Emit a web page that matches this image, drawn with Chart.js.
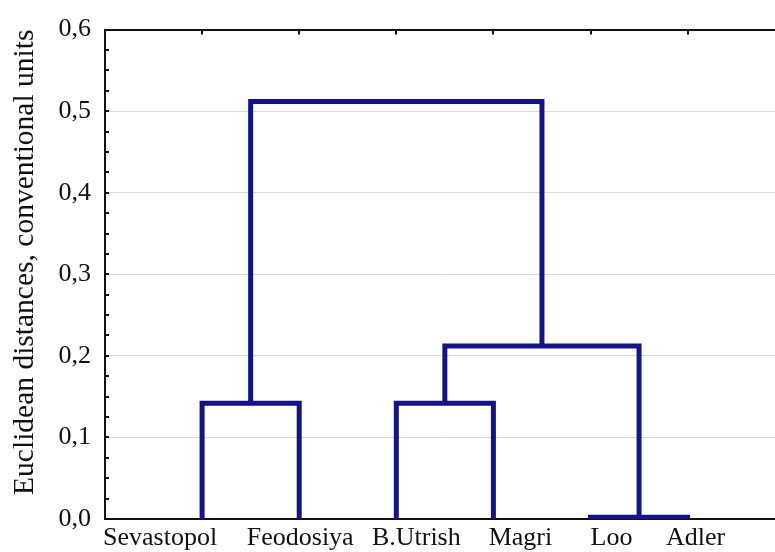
<!DOCTYPE html>
<html>
<head>
<meta charset="utf-8">
<script src="https://cdn.jsdelivr.net/npm/chart.js@4/dist/chart.umd.min.js"></script>
<style>
  html, body { margin: 0; padding: 0; background: #fff; }
  #wrap { width: 775px; height: 552px; position: relative; }
</style>
</head>
<body>
<div id="wrap"><canvas id="dendro"></canvas></div>
<script>
// leaves in dendrogram order
var leafNames = ['Sevastopol', 'Feodosiya', 'B.Utrish', 'Magri', 'Loo', 'Adler'];
// merges: node ids 0..5 are leaves, merge k creates node 6+k
var mergeLeft = [0, 2, 4, 7, 6];
var mergeRight = [1, 3, 5, 8, 9];
var mergeHeight = [0.142, 0.142, 0.002, 0.212, 0.512];
var yTicks = [0, 0.1, 0.2, 0.3, 0.4, 0.5, 0.6];

var lineColor = '#14148a';
// the original squeezes its leaf labels a little off their leaves (px)
var labelNudge = [-42, 1, 20, 27, 21, 8];

// node positions: leaf i sits at x = i + 1, clusters at the middle of their children
var nodeX = leafNames.map(function (n, i) { return i + 1; });
var nodeY = leafNames.map(function () { return 0; });
var linkSets = [];
for (let k = 0; k < mergeHeight.length; k++) {
    var a = mergeLeft[k], b = mergeRight[k], h = mergeHeight[k];
    linkSets.push({
        data: [
            {x: nodeX[a], y: nodeY[a]},
            {x: nodeX[a], y: h},
            {x: nodeX[b], y: h},
            {x: nodeX[b], y: nodeY[b]}
        ],
        borderColor: lineColor,
        borderWidth: 5,
        borderJoinStyle: 'miter',
        borderCapStyle: 'butt',
        pointRadius: 0,
        tension: 0,
        fill: false
    });
    nodeX.push((nodeX[a] + nodeX[b]) / 2);
    nodeY.push(h);
}

// small inward ticks on the frame, like the original statistics package draws
var innerTicks = {
    id: 'innerTicks',
    beforeDatasetsDraw: function (chart) {
        var ctx = chart.ctx, ca = chart.chartArea;
        var ys = chart.scales.y, xs = chart.scales.x;
        ctx.save();
        ctx.strokeStyle = '#111';
        ctx.lineWidth = 2;
        ctx.beginPath();
        for (let v = 0; v <= 0.6001; v += 0.025) {
            var py = Math.round(ys.getPixelForValue(v));
            ctx.moveTo(ca.left, py);
            ctx.lineTo(ca.left + 4, py);
        }
        for (let i = 0; i < leafNames.length; i++) {
            var px = Math.round(xs.getPixelForValue(i + 1));
            ctx.moveTo(px, ca.top);
            ctx.lineTo(px, ca.top + 5);
            ctx.moveTo(px, ca.bottom);
            ctx.lineTo(px, ca.bottom - 4);
        }
        ctx.stroke();
        ctx.restore();
    }
};

var serif = "'Liberation Serif', 'Times New Roman', serif";

new Chart(document.getElementById('dendro').getContext('2d'), {
    type: 'line',
    data: { datasets: linkSets },
    plugins: [innerTicks],
    options: {
        responsive: true,
        maintainAspectRatio: false,
        animation: false,
        layout: { padding: { left: 0, right: 0, top: 24, bottom: 0 } },
        plugins: {
            legend: { display: false },
            tooltip: { enabled: false }
        },
        scales: {
            x: {
                type: 'linear',
                position: 'bottom',
                min: 0,
                max: 6.9,
                afterBuildTicks: function (scale) {
                    scale.ticks = leafNames.map(function (n, i) { return {value: i + 1}; });
                    scale.getPixelForTick = function (index) {
                        return this.getPixelForValue(this.ticks[index].value) + (labelNudge[index] || 0);
                    };
                },
                afterFit: function (scale) { scale.height = 33; },
                ticks: {
                    autoSkip: false,
                    maxRotation: 0,
                    minRotation: 0,
                    padding: 4,
                    color: '#111',
                    font: { family: serif, size: 26 },
                    callback: function (v) { return leafNames[Math.round(v) - 1] || ''; }
                },
                grid: { display: true, drawOnChartArea: false, drawTicks: false },
                border: { display: true, color: '#111', width: 2 }
            },
            xTop: {
                type: 'linear',
                position: 'top',
                min: 0,
                max: 6.9,
                afterFit: function (scale) { scale.height = 0; },
                ticks: { display: false },
                grid: { display: true, drawOnChartArea: false, drawTicks: false },
                border: { display: true, color: '#111', width: 2 }
            },
            y: {
                type: 'linear',
                min: 0,
                max: 0.6,
                afterBuildTicks: function (scale) {
                    scale.ticks = yTicks.map(function (v) { return {value: v}; });
                },
                afterFit: function (scale) { scale.width = 105; },
                ticks: {
                    padding: 14,
                    color: '#111',
                    font: { family: serif, size: 26 },
                    callback: function (v) { return v.toFixed(1).replace('.', ','); }
                },
                grid: { color: '#d9d9d9', lineWidth: 1, drawTicks: false },
                border: { display: true, color: '#111', width: 2 },
                title: {
                    display: true,
                    align: 'end',
                    text: 'Euclidean distances, conventional units',
                    color: '#111',
                    font: { family: serif, size: 29.5 },
                    padding: { top: 8, bottom: 0 }
                }
            }
        }
    }
});
</script>
</body>
</html>
